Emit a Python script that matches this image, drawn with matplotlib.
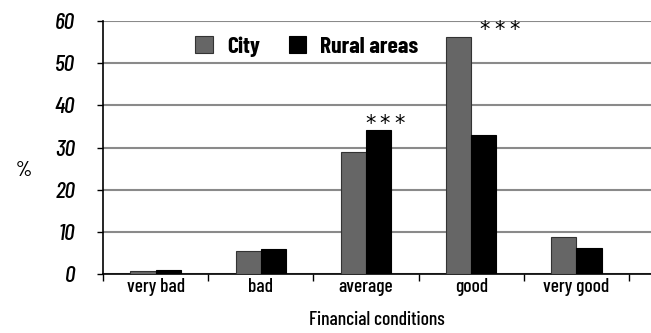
#!/usr/bin/env python3
"""Financial conditions: city vs rural areas, grouped bars."""

import matplotlib

matplotlib.use("Agg")
import matplotlib.pyplot as plt
import numpy as np

# ── Data ─────────────────────────────────────────────────────────────────────
categories = ["very bad", "bad", "average", "good", "very good"]
city = [0.6, 5.5, 29.0, 56.2, 8.8]
rural = [1.0, 5.9, 34.1, 33.0, 6.1]
signif = [0, 0, 3, 3, 0]  # number of stars per category
y_ticks = [0, 10, 20, 30, 40, 50, 60]

CITY_GREY = "#666666"
RURAL_BLACK = "#000000"
GRID = "#8a8a8a"

plt.rcParams.update({
    "font.family": ["Barlow Condensed", "Archivo Narrow", "DejaVu Sans"],
})

fig = plt.figure(figsize=(6.51, 3.33), dpi=100)
ax = fig.add_axes([103 / 651, 1 - 274 / 333, 548 / 651, 253 / 333])

x = np.arange(len(categories))
w = 0.24
ax.bar(x - w / 2, city, width=w, color=CITY_GREY, edgecolor="#333333",
       linewidth=0.8, label="City", zorder=3)
ax.bar(x + w / 2, rural, width=w, color=RURAL_BLACK, edgecolor="#000000",
       linewidth=0.8, label="Rural areas", zorder=3)

# significance stars, spread out a little
for i, n in enumerate(signif):
    if n:
        top = max(city[i], rural[i])
        xs = x[i] + (0.18 if rural[i] > city[i] else 0.27)
        for k in range(n):
            ax.annotate("*", (xs, top), xytext=((k - (n - 1) / 2) * 10.5, -2.5),
                        textcoords="offset points", ha="center", va="bottom",
                        fontsize=15, family="DejaVu Sans", zorder=4)

ax.set_ylim(0, 60)
ax.set_xlim(-0.5, -0.5 + 548 / 105.2)
ax.set_yticks(y_ticks)
ax.set_yticklabels([str(t) for t in y_ticks], fontsize=17, style="italic",
                   weight="medium")
ax.yaxis.grid(True, color=GRID, linewidth=1.5, zorder=0)
ax.set_axisbelow(True)

# category boundaries as ticks, names centred between them
ax.set_xticks(np.arange(len(categories) + 1) - 0.5, minor=False)
ax.set_xticklabels([])
ax.set_xticks(x, minor=True)
ax.set_xticklabels(categories, minor=True, fontsize=14, weight="medium")
ax.tick_params(axis="x", which="minor", length=0, pad=3)
ax.tick_params(axis="x", which="major", length=5, direction="out", width=1)
ax.tick_params(axis="y", length=4, direction="out", width=1, pad=16)

for side in ("top", "right"):
    ax.spines[side].set_visible(False)
ax.spines["left"].set_linewidth(1.2)
ax.spines["bottom"].set_linewidth(1.2)

ax.set_xlabel("Financial conditions", fontsize=14, weight="medium", labelpad=11)
ax.text(-0.145, 0.41, "%", transform=ax.transAxes, fontsize=15,
        weight="medium", ha="center", va="center")

ax.legend(loc="upper left", bbox_to_anchor=(0.13, 1.025), ncol=2,
          frameon=False, prop={"weight": "bold", "size": 17},
          handlelength=0.75, handleheight=0.75, handletextpad=0.6,
          columnspacing=1.2)

fig.savefig("out.png", dpi=100, facecolor="white")
